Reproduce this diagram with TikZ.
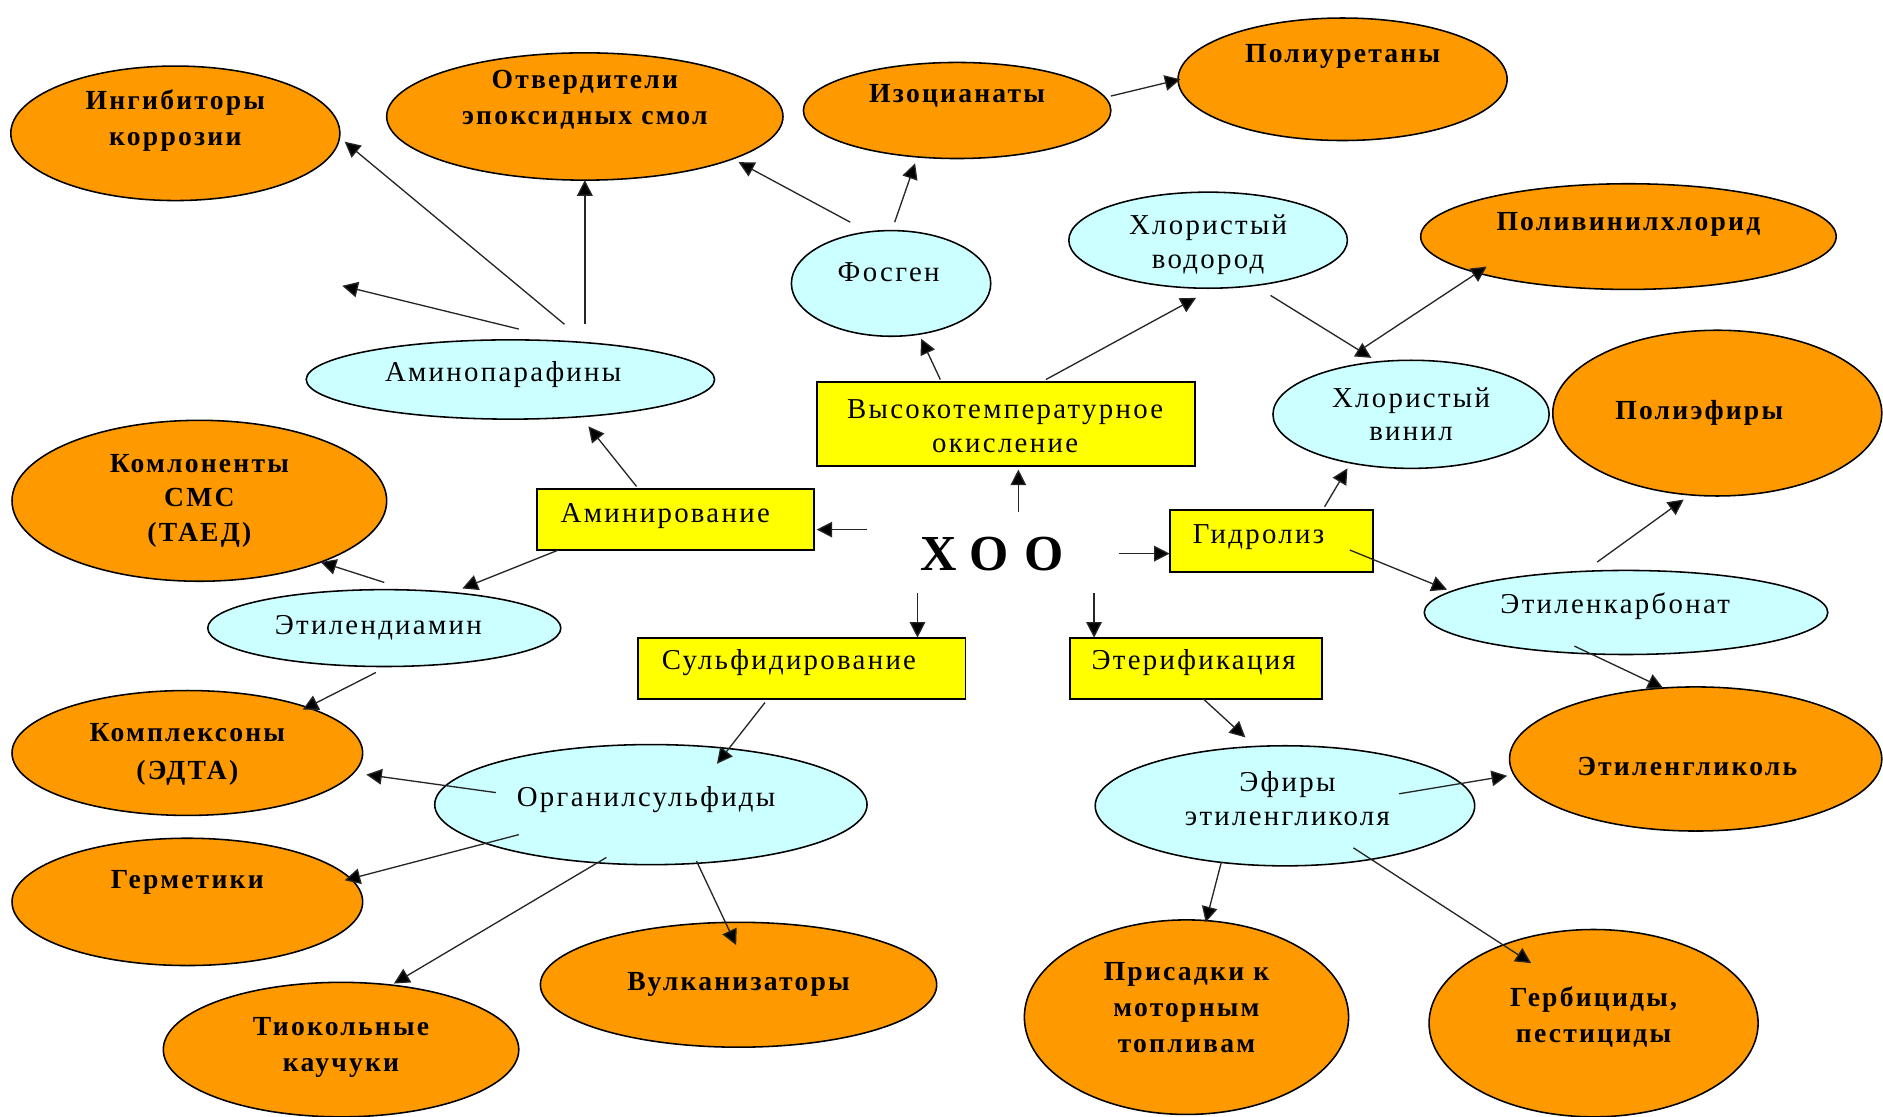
\documentclass[tikz,border=0pt]{standalone}
\usepackage{fontspec}
\setmainfont{Liberation Serif}
\newfontfamily\lblfont[LetterSpace=8]{Liberation Serif}
\newfontfamily\xoofont[LetterSpace=30]{Liberation Serif}
\usetikzlibrary{shapes.geometric,arrows.meta,calc}
\definecolor{orng}{HTML}{FF9900}
\definecolor{cyn}{HTML}{CCFFFF}
\definecolor{ylw}{HTML}{FFFF00}
\begin{document}
\begin{tikzpicture}[x=1pt,y=-1pt,
 ov/.style={ellipse,draw=black,line width=1.3pt,fill=orng,inner sep=0pt},
 cy/.style={ellipse,draw=black,line width=1.3pt,fill=cyn,inner sep=0pt},
 bx/.style={rectangle,draw=black,line width=1.6pt,fill=ylw,inner sep=0pt},
 otx/.style={font=\lblfont\bfseries\fontsize{23}{30}\selectfont,align=center,inner sep=0pt},
 ctx/.style={font=\lblfont\fontsize{24}{28}\selectfont,align=center,inner sep=0pt},
 arr/.style={draw=black!85,line width=1.1pt,-{Triangle[length=13pt,width=13pt,fill=black]}},
]
\useasboundingbox[fill=white] (0,0) rectangle (1568,930);

% orange ellipses
\node[ov,minimum width=274pt,minimum height=112pt] (ing) at (146,111) {};
\node[otx] (ingT) at (146,100) {Ингибиторы\\коррозии};
\node[ov,minimum width=330pt,minimum height=106pt] (otv) at (487,97) {};
\node[otx] (otvT) at (487,83) {Отвердители\\эпоксидных смол};
\node[ov,minimum width=256pt,minimum height=80pt] (izo) at (797,92) {};
\node[otx] (izoT) at (797,80) {Изоцианаты};
\node[ov,minimum width=274pt,minimum height=102pt] (pu) at (1118,66) {};
\node[otx] (puT) at (1118,47) {Полиуретаны};
\node[ov,minimum width=346pt,minimum height=88pt] (pvc) at (1356,197) {};
\node[otx] (pvcT) at (1356,187) {Поливинилхлорид};
\node[ov,minimum width=274pt,minimum height=138pt] (pef) at (1430,344) {};
\node[otx] (pefT) at (1415,344) {Полиэфиры};
\node[ov,minimum width=310pt,minimum height=120pt] (eg) at (1412,632) {};
\node[otx] (egT) at (1405,638) {Этиленгликоль};
\node[ov,minimum width=274pt,minimum height=156pt] (herb) at (1327,852) {};
\node[otx] (herbT) at (1327,847) {Гербициды,\\пестициды};
\node[ov,minimum width=270pt,minimum height=162pt] (pris) at (988,847) {};
\node[otx] (prisT) at (988,839) {Присадки к\\моторным\\топливам};
\node[ov,minimum width=330pt,minimum height=104pt] (vulk) at (615,820) {};
\node[otx] (vulkT) at (615,820) {Вулканизаторы};
\node[ov,minimum width=296pt,minimum height=112pt] (tiok) at (284,874) {};
\node[otx] (tiokT) at (284,872) {Тиокольные\\каучуки};
\node[ov,minimum width=292pt,minimum height=106pt] (germ) at (156,751) {};
\node[otx] (germT) at (156,735) {Герметики};
\node[ov,minimum width=292pt,minimum height=104pt] (kompl) at (156,627) {};
\node[otx,font=\lblfont\bfseries\fontsize{23}{32}\selectfont] (komplT) at (156,628) {Комплексоны\\(ЭДТА)};
\node[ov,minimum width=312pt,minimum height=134pt] (sms) at (166,417) {};
\node[otx,font=\lblfont\bfseries\fontsize{23}{29}\selectfont] (smsT) at (166,417) {Комлоненты\\СМС\\(ТАЕД)};

% cyan ellipses
\node[cy,minimum width=340pt,minimum height=66pt] (amp) at (425,316) {};
\node[ctx] (ampT) at (419,312) {Аминопарафины};
\node[cy,minimum width=166pt,minimum height=88pt] (fosg) at (742,236) {};
\node[ctx] (fosgT) at (740,227) {Фосген};
\node[cy,minimum width=232pt,minimum height=80pt] (hcl) at (1006,200) {};
\node[ctx] (hclT) at (1006,204) {Хлористый\\водород};
\node[cy,minimum width=230pt,minimum height=90pt] (vc) at (1175,345) {};
\node[ctx] (vcT) at (1175,345) {Хлористый\\винил};
\node[cy,minimum width=336pt,minimum height=70pt] (ek) at (1354,510) {};
\node[ctx] (ekT) at (1345,505) {Этиленкарбонат};
\node[cy,minimum width=294pt,minimum height=64pt] (eda) at (320,523) {};
\node[ctx] (edaT) at (315,523) {Этилендиамин};
\node[cy,minimum width=360pt,minimum height=100pt] (org) at (542,670) {};
\node[ctx] (orgT) at (538,666) {Органилсульфиды};
\node[cy,minimum width=316pt,minimum height=100pt] (efir) at (1070,671) {};
\node[ctx] (efirT) at (1072,665) {Эфиры\\этиленгликоля};

% yellow boxes
\node[bx,minimum width=315pt,minimum height=70pt] (ok) at (837.5,353) {};
\node[ctx] (okT) at (837,355) {Высокотемпературное\\окисление};
\node[bx,minimum width=231pt,minimum height=51pt] (am) at (562.5,432.5) {};
\node[ctx] (amT) at (554,430) {Аминирование};
\node[bx,minimum width=169pt,minimum height=51pt] (gid) at (1058.5,450.5) {};
\node[ctx] (gidT) at (1048,447) {Гидролиз};
\node[bx,minimum width=273pt,minimum height=51pt] (sulf) at (667.5,556.5) {};
\node[ctx] (sulfT) at (657,552) {Сульфидирование};
\node[bx,minimum width=210pt,minimum height=51pt] (eter) at (996,556.5) {};
\node[ctx] (eterT) at (994,552) {Этерификация};

% centre
\node[font=\xoofont\bfseries\fontsize{42}{46}\selectfont,inner sep=0pt] (xoo) at (826,461) {ХОО};

\coordinate (free) at (285,238);

% arrows
\draw[arr] ($(xoo)+(-104,-20)$) -- ($(am)+(117.5,8.5)$);
\draw[arr] ($(xoo)+(22,-35)$) -- ($(ok)+(10.5,38)$);
\draw[arr] ($(xoo)+(106,0)$) -- ($(gid)+(-84.5,10.5)$);
\draw[arr] ($(xoo)+(-62,33)$) -- ($(sulf)+(96.5,-25.5)$);
\draw[arr] ($(xoo)+(85,33)$) -- ($(eter)+(-85,-25.5)$);
\draw[arr] ($(ok)+(-54.5,-37)$) -- ($(fosg)+(25,46)$);
\draw[arr] ($(ok)+(33.5,-37)$) -- ($(hcl)+(-10,48)$);
\draw[arr] ($(fosg)+(3,-51)$) -- ($(izo)+(-35,44)$);
\draw[arr] ($(fosg)+(-34,-51)$) -- ($(otv)+(128,38)$);
\draw[arr] ($(izo)+(128,-12)$) -- ($(pu)+(-135,0)$);
\draw[arr] ($(hcl)+(52,46)$) -- ($(vc)+(-33,-47)$);
\draw[arr] ($(vc)+(-40,-55)$) -- ($(pvc)+(-118,25)$);
\draw[arr] ($(gid)+(44.5,-28.5)$) -- ($(vc)+(-53,45)$);
\draw[arr] ($(gid)+(65.5,7.5)$) -- ($(ek)+(-149,-19)$);
\draw[arr] ($(ek)+(-24,-42)$) -- ($(pef)+(-28,72)$);
\draw[arr] ($(ek)+(-43,28)$) -- ($(eg)+(-27,-59)$);
\draw[arr] ($(eter)+(6,25.5)$) -- ($(efir)+(-33,-57)$);
\draw[arr] ($(efir)+(95,-10)$) -- ($(eg)+(-157,14)$);
\draw[arr] ($(efir)+(-53,47)$) -- ($(pris)+(16,-79)$);
\draw[arr] ($(efir)+(57,35)$) -- ($(herb)+(-52,-50)$);
\draw[arr] ($(am)+(-32.5,-27.5)$) -- ($(amp)+(65,39)$);
\draw[arr] ($(amp)+(62,-46)$) -- ($(otv)+(0,53)$);
\draw[arr] ($(amp)+(45,-46)$) -- ($(ing)+(141,7)$);
\draw[arr] ($(amp)+(7,-42)$) -- (free);
\draw[arr] ($(am)+(-97.5,25.5)$) -- ($(eda)+(65,-33)$);
\draw[arr] ($(eda)+(0,-38)$) -- ($(sms)+(101,51)$);
\draw[arr] ($(eda)+(-7,37)$) -- ($(kompl)+(96,-36)$);
\draw[arr] ($(sulf)+(-30.5,28.5)$) -- ($(org)+(55,-34)$);
\draw[arr] ($(org)+(-129,-10)$) -- ($(kompl)+(149,18)$);
\draw[arr] ($(org)+(-110,25)$) -- ($(germ)+(131,-18)$);
\draw[arr] ($(org)+(-37,44)$) -- ($(tiok)+(44,-55)$);
\draw[arr] ($(org)+(38,47)$) -- ($(vulk)+(-2,-33)$);
\end{tikzpicture}
\end{document}
